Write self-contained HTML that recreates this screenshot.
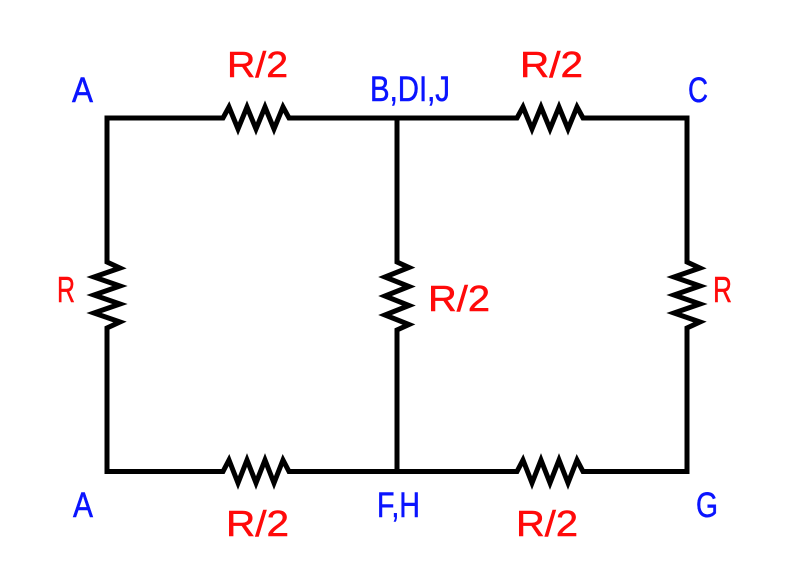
<!DOCTYPE html>
<html>
<head>
<meta charset="utf-8">
<style>
  html, body { margin:0; padding:0; background:#ffffff; }
  body { width:794px; height:584px; overflow:hidden; }
  svg { display:block; }
</style>
</head>
<body>
<svg width="794" height="584" viewBox="0 0 794 584" xmlns="http://www.w3.org/2000/svg">
  <rect x="0" y="0" width="794" height="584" fill="#ffffff"/>
  <g fill="none" stroke="#000000" stroke-width="5" stroke-linejoin="miter" stroke-miterlimit="6">
    <polygon points="107,471.5 107,328 120,322 94,313 120,304 94,295 120,286 94,277 120,268 107,262 107,118 223,118 229,107 238,129 247,107 256,129 265,107 274,129 283,107 289,118 517,118 523,107 532,129 541,107 550,129 559,107 568,129 577,107 583,118 687,118 687,262 700,268 674,277 700,286 674,295 700,304 674,313 700,322 687,328 687,471.5 583,471.5 577,460 568,483 559,460 550,483 541,460 532,483 523,460 517,471.5 289,471.5 283,460 274,483 265,460 256,483 247,460 238,483 229,460 223,471.5"/>
    <polyline points="397,118 397,262 409,267.5 385,277 409,286.5 385,296 409,305.5 385,315 409,324.5 397,330 397,471.5"/>
  </g>

  <g fill="#0a14ff" stroke="#0a14ff" stroke-width="0.5" font-family="Liberation Sans, sans-serif" font-size="35" style="font-family:'Liberation Sans',sans-serif;font-size:35px">
    <text x="72" y="102" textLength="21" lengthAdjust="spacingAndGlyphs">A</text>
    <text x="370" y="101" textLength="80" lengthAdjust="spacingAndGlyphs">B,DI,J</text>
    <text x="688" y="102" textLength="20" lengthAdjust="spacingAndGlyphs">C</text>
    <text x="73" y="517" textLength="20" lengthAdjust="spacingAndGlyphs">A</text>
    <text x="377" y="517" textLength="43" lengthAdjust="spacingAndGlyphs">F,H</text>
    <text x="696" y="517" textLength="22" lengthAdjust="spacingAndGlyphs">G</text>
  </g>

  <g fill="#ff0a0a" stroke="#ff0a0a" stroke-width="0.5" font-family="Liberation Sans, sans-serif" font-size="36" style="font-family:'Liberation Sans',sans-serif;font-size:36px">
    <text x="227" y="77" textLength="61" lengthAdjust="spacingAndGlyphs">R/2</text>
    <text x="520" y="77" textLength="63" lengthAdjust="spacingAndGlyphs">R/2</text>
    <text x="428" y="311" textLength="62" lengthAdjust="spacingAndGlyphs">R/2</text>
    <text x="57" y="302" textLength="18" lengthAdjust="spacingAndGlyphs">R</text>
    <text x="713" y="302" textLength="19" lengthAdjust="spacingAndGlyphs">R</text>
    <text x="226" y="536" textLength="63" lengthAdjust="spacingAndGlyphs">R/2</text>
    <text x="516" y="536" textLength="62" lengthAdjust="spacingAndGlyphs">R/2</text>
  </g>
</svg>
</body>
</html>
